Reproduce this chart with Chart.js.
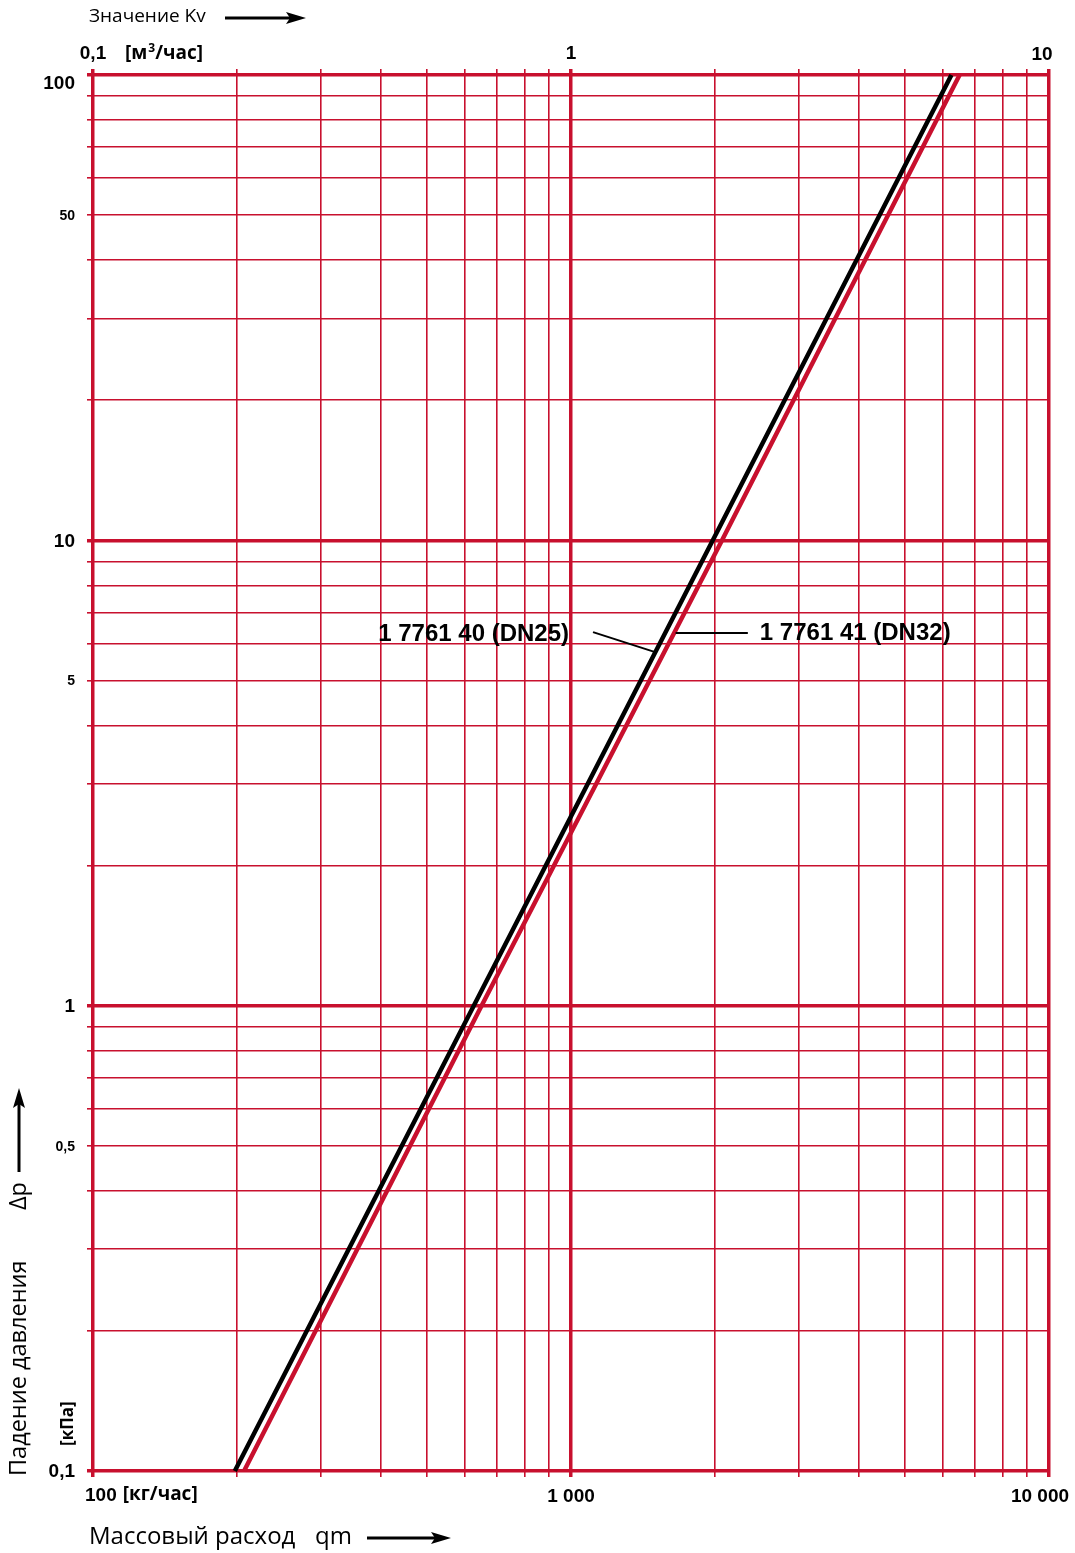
<!DOCTYPE html>
<html>
<head>
<meta charset="utf-8">
<script src="https://cdn.jsdelivr.net/npm/chart.js@4.4.1/dist/chart.umd.min.js"></script>
<style>
html,body{margin:0;padding:0;background:#fff;}
#c{display:block;}
</style>
</head>
<body>
<canvas id="c" width="1075" height="1553"></canvas>
<script>
// ---- data ----
const dpValues = [0.1, 1, 10, 100];                 // pressure drop, kPa
const flowDN25 = [198, 626, 1980, 6250];            // 1 7761 40 (DN25), kg/h
const flowDN32 = [207, 650, 2070, 6500];            // 1 7761 41 (DN32), kg/h
const seriesNames = ['1 7761 40 (DN25)', '1 7761 41 (DN32)'];

const xGridValues = [100,200,300,400,500,600,700,800,900,1000,2000,3000,4000,5000,6000,7000,8000,9000,10000];
const kvGridValues = [0.1,0.2,0.3,0.4,0.5,0.6,0.7,0.8,0.9,1,2,3,4,5,6,7,8,9,10];
const yGridValues = [0.1,0.2,0.3,0.4,0.5,0.6,0.7,0.8,0.9,1,2,3,4,5,6,7,8,9,10,20,30,40,50,60,70,80,90,100];

const yLabelValues = [0.1, 0.5, 1, 5, 10, 50, 100];
const yLabelTexts  = ['0,1', '0,5', '1', '5', '10', '50', '100'];
const xLabelValues = [100, 1000, 10000];
const xLabelTexts  = ['100', '1 000', '10 000'];
const kvLabelValues = [0.1, 1, 10];
const kvLabelTexts  = ['0,1', '1', '10'];

const RED = '#c8102e';
const BOLD = '"Liberation Sans", Arial, sans-serif';
const SANS = '"Open Sans", "Noto Sans", sans-serif';

const majors = new Set([0.1, 1, 10, 100, 1000, 10000]);
const isMajor = v => majors.has(+(+v).toPrecision(6));

function pts(xs, ys){ return xs.map((x,i)=>({x:x, y:ys[i]})); }

function arrow(ctx, x1, y1, x2, y2){
  const ang = Math.atan2(y2-y1, x2-x1);
  const hl = 20, hw = 6;
  const bx = x2 - hl*Math.cos(ang), by = y2 - hl*Math.sin(ang);
  ctx.save();
  ctx.strokeStyle = '#000'; ctx.fillStyle = '#000'; ctx.lineWidth = 3;
  ctx.beginPath(); ctx.moveTo(x1,y1); ctx.lineTo(bx + 4*Math.cos(ang), by + 4*Math.sin(ang)); ctx.stroke();
  ctx.beginPath();
  ctx.moveTo(x2,y2);
  ctx.lineTo(bx - hw*Math.sin(ang), by + hw*Math.cos(ang));
  ctx.lineTo(bx + 4*Math.cos(ang), by + 4*Math.sin(ang));
  ctx.lineTo(bx + hw*Math.sin(ang), by - hw*Math.cos(ang));
  ctx.closePath(); ctx.fill();
  ctx.restore();
}

const decor = {
  id: 'decor',
  afterDraw(chart){
    const ctx = chart.ctx;
    const xs = chart.scales.x, ys = chart.scales.y, ks = chart.scales.x2;
    const ca = chart.chartArea;
    ctx.save();
    ctx.fillStyle = '#000';
    ctx.textBaseline = 'middle';

    // left pressure-drop tick labels
    ctx.textAlign = 'right';
    yLabelValues.forEach((v, i) => {
      const big = isMajor(v);
      ctx.font = 'bold ' + (big ? 19 : 14) + 'px ' + BOLD;
      let py = ys.getPixelForValue(v);
      if (i === yLabelValues.length - 1) py += 8;
      ctx.fillText(yLabelTexts[i], ca.left - 18, py + 1);
    });

    // bottom mass-flow tick labels
    const yb = ca.bottom + 25;
    ctx.font = 'bold 19px ' + BOLD;
    ctx.textAlign = 'left';
    const p100 = xs.getPixelForValue(xLabelValues[0]);
    ctx.fillText(xLabelTexts[0], p100 - 8, yb);
    const w100 = ctx.measureText(xLabelTexts[0]).width;
    ctx.font = 'bold 19px ' + SANS;
    ctx.fillText('[кг/час]', p100 - 8 + w100 + 6, yb - 1);
    ctx.font = 'bold 19px ' + BOLD;
    ctx.textAlign = 'center';
    ctx.fillText(xLabelTexts[1], xs.getPixelForValue(xLabelValues[1]), yb + 1);
    ctx.fillText(xLabelTexts[2], xs.getPixelForValue(xLabelValues[2]) - 9, yb + 1);

    // top Kv tick labels
    const yt = ca.top - 21;
    ctx.textAlign = 'center';
    ctx.fillText(kvLabelTexts[0], ks.getPixelForValue(kvLabelValues[0]), yt);
    ctx.fillText(kvLabelTexts[1], ks.getPixelForValue(kvLabelValues[1]), yt);
    ctx.fillText(kvLabelTexts[2], ks.getPixelForValue(kvLabelValues[2]) - 7, yt + 1);
    ctx.textAlign = 'left';
    ctx.font = 'bold 19px ' + SANS;
    let tx = ks.getPixelForValue(kvLabelValues[0]) + 32;
    ctx.fillText('[м', tx, yt); tx += ctx.measureText('[м').width;
    ctx.font = 'bold 12px ' + SANS;
    ctx.fillText('3', tx + 1, yt - 5); tx += ctx.measureText('3').width + 1;
    ctx.font = 'bold 19px ' + SANS;
    ctx.fillText('/час]', tx, yt);

    // axis titles
    ctx.font = '19px ' + SANS;
    ctx.textAlign = 'left';
    ctx.fillText('Значение Kv', 89, 17);
    arrow(ctx, 225, 18, 306, 18);

    ctx.font = '24px ' + SANS;
    ctx.fillText('Массовый расход', 89, 1537);
    ctx.fillText('qm', 315, 1537);
    arrow(ctx, 367, 1538, 451, 1538);

    // left rotated titles
    ctx.save();
    ctx.translate(19, 1476);
    ctx.rotate(-Math.PI/2);
    ctx.font = '23.5px ' + SANS;
    ctx.textAlign = 'left';
    ctx.fillText('Падение давления', 0, 0);
    ctx.fillText('Δp', 266, 0);
    ctx.restore();
    arrow(ctx, 19, 1172, 19, 1088);

    ctx.save();
    ctx.translate(68, 1446);
    ctx.rotate(-Math.PI/2);
    ctx.font = 'bold 17px ' + SANS;
    ctx.textAlign = 'left';
    ctx.fillText('[кПа]', 0, 0);
    ctx.restore();

    // series labels with leader lines (anchored in data space)
    ctx.strokeStyle = '#000';
    ctx.lineWidth = 2;
    const a1 = {x: xs.getPixelForValue(1112), y: ys.getPixelForValue(6.35)};
    const b1 = {x: xs.getPixelForValue(1500), y: ys.getPixelForValue(5.75)};
    ctx.beginPath(); ctx.moveTo(a1.x, a1.y); ctx.lineTo(b1.x, b1.y); ctx.stroke();
    const a2 = {x: xs.getPixelForValue(1655), y: ys.getPixelForValue(6.32)};
    const b2 = {x: xs.getPixelForValue(2344), y: ys.getPixelForValue(6.32)};
    ctx.beginPath(); ctx.moveTo(a2.x, a2.y); ctx.lineTo(b2.x, b2.y); ctx.stroke();
    ctx.font = 'bold 24px ' + BOLD;
    ctx.textAlign = 'right';
    ctx.fillText(seriesNames[0], a1.x - 24, a1.y + 2);
    ctx.textAlign = 'left';
    ctx.fillText(seriesNames[1], b2.x + 12, b2.y);
    ctx.restore();
  }
};

const gridCommon = {
  color: RED,
  lineWidth: c => (c.tick && isMajor(c.tick.value)) ? 3.5 : 1.6,
  tickLength: 6,
  drawTicks: true
};

new Chart(document.getElementById('c'), {
  type: 'scatter',
  data: {
    datasets: [
      { label: seriesNames[1], data: pts(flowDN32, dpValues), showLine: true, borderColor: RED, borderWidth: 4.5, pointRadius: 0, xAxisID: 'x', yAxisID: 'y', clip: false },
      { label: seriesNames[0], data: pts(flowDN25, dpValues), showLine: true, borderColor: '#000', borderWidth: 4.5, pointRadius: 0, xAxisID: 'x', yAxisID: 'y', clip: false }
    ]
  },
  options: {
    responsive: false,
    animation: false,
    devicePixelRatio: 1,
    layout: { padding: { left: 93, right: 26, top: 75, bottom: 82 } },
    plugins: { legend: { display: false }, tooltip: { enabled: false }, title: { display: false } },
    scales: {
      x: {
        type: 'logarithmic', position: 'bottom', min: 100, max: 10000,
        afterBuildTicks: s => { s.ticks = xGridValues.map(v => ({value: v})); },
        afterFit: s => { s.height = 0; },
        ticks: { display: false, autoSkip: false },
        grid: gridCommon,
        border: { display: false }
      },
      x2: {
        type: 'logarithmic', position: 'top', min: 0.1, max: 10,
        afterBuildTicks: s => { s.ticks = kvGridValues.map(v => ({value: v})); },
        afterFit: s => { s.height = 0; },
        ticks: { display: false, autoSkip: false },
        grid: Object.assign({}, gridCommon, { drawOnChartArea: false }),
        border: { display: false }
      },
      y: {
        type: 'logarithmic', position: 'left', min: 0.1, max: 100,
        afterBuildTicks: s => { s.ticks = yGridValues.map(v => ({value: v})); },
        afterFit: s => { s.width = 0; },
        ticks: { display: false, autoSkip: false },
        grid: gridCommon,
        border: { display: false }
      }
    }
  },
  plugins: [decor]
});
</script>
</body>
</html>
